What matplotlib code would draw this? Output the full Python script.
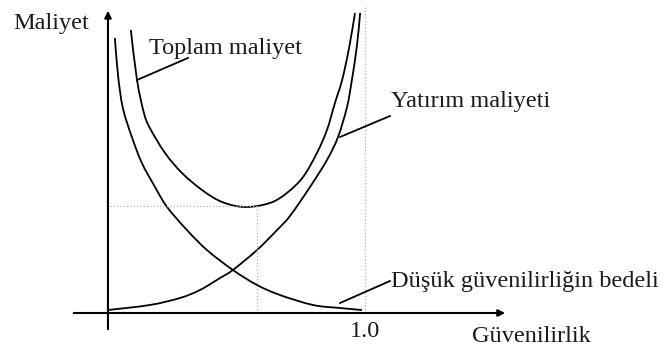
import matplotlib
matplotlib.use("Agg")
import matplotlib.pyplot as plt
from matplotlib.path import Path
from matplotlib.patches import PathPatch

plt.rcParams['font.family'] = ['Liberation Serif', 'DejaVu Serif']

# Yatırım maliyeti (artan)
yatirim_x = [0.000, 0.163, 0.280, 0.358, 0.436, 0.486, 0.580, 0.658, 0.708, 0.786,
             0.852, 0.895, 0.930, 0.949, 0.969, 0.981]
yatirim_y = [0.03, 0.08, 0.15, 0.23, 0.35, 0.43, 0.63, 0.83, 0.97, 1.26,
             1.53, 1.76, 2.06, 2.33, 2.68, 3.00]

# Toplam maliyet (U şekli)
toplam_x = [0.089, 0.113, 0.140, 0.163, 0.222, 0.288, 0.366, 0.444, 0.533, 0.630,
            0.696, 0.759, 0.813, 0.852, 0.883, 0.911, 0.938, 0.961]
toplam_y = [2.83, 2.33, 2.00, 1.85, 1.60, 1.40, 1.23, 1.11, 1.06, 1.10,
            1.20, 1.36, 1.60, 1.83, 2.10, 2.33, 2.65, 3.00]

# Düşük güvenilirliğin bedeli (azalan)
dusuk_x = [0.027, 0.039, 0.058, 0.093, 0.132, 0.183, 0.230, 0.307, 0.385, 0.486,
           0.580, 0.669, 0.798, 0.903, 0.988]
dusuk_y = [2.75, 2.38, 2.05, 1.76, 1.50, 1.26, 1.06, 0.83, 0.63, 0.43,
           0.28, 0.18, 0.08, 0.05, 0.03]

opt_x = 0.580
opt_y = 1.07


def smooth_curve(ax, xs, ys, lw=1.3):
    # Catmull-Rom -> Bezier, drawn by matplotlib's Path
    pts = list(zip(xs, ys))
    verts = [pts[0]]
    codes = [Path.MOVETO]
    n = len(pts)
    for i in range(n - 1):
        p0 = pts[i - 1] if i > 0 else pts[i]
        p1 = pts[i]
        p2 = pts[i + 1]
        p3 = pts[i + 2] if i + 2 < n else pts[i + 1]
        c1 = (p1[0] + (p2[0] - p0[0]) / 6, p1[1] + (p2[1] - p0[1]) / 6)
        c2 = (p2[0] - (p3[0] - p1[0]) / 6, p2[1] - (p3[1] - p1[1]) / 6)
        verts += [c1, c2, p2]
        codes += [Path.CURVE4] * 3
    ax.add_patch(PathPatch(Path(verts, codes), fill=False, edgecolor='black', lw=lw))


fig = plt.figure(figsize=(6.66, 3.47), dpi=100)
ax = fig.add_axes([0, 0, 1, 1])
ax.set_xlim(-0.420, 2.171)
ax.set_ylim(-0.34, 3.13)
ax.axis('off')

# eksenler
ax.annotate('', xy=(1.556, 0), xytext=(-0.144, 0),
            arrowprops=dict(arrowstyle='-|>', color='black', lw=1.5, mutation_scale=10))
ax.annotate('', xy=(0, 3.05), xytext=(0, -0.19),
            arrowprops=dict(arrowstyle='-|>', color='black', lw=1.5, mutation_scale=10))

# noktalı çizgiler
dot = dict(color='#b0b0b0', lw=0.9, ls=':')
ax.plot([0.008, opt_x], [opt_y, opt_y], **dot)
ax.plot([opt_x, opt_x], [0, opt_y], **dot)
ax.plot([1.0, 1.0], [0, 3.08], **dot)

# eğriler
smooth_curve(ax, yatirim_x, yatirim_y)
smooth_curve(ax, toplam_x, toplam_y)
smooth_curve(ax, dusuk_x, dusuk_y)

# etiket çizgileri
ax.plot([0.113, 0.311], [2.33, 2.55], color='black', lw=1.3)
ax.plot([0.903, 1.097], [1.76, 1.97], color='black', lw=1.3)
ax.plot([0.903, 1.097], [0.10, 0.32], color='black', lw=1.3)

fs = 17.5
tc = '#1a1a1a'
ax.text(-0.370, 2.84, 'Maliyet', fontsize=fs, color=tc, va='baseline')
ax.text(0.160, 2.59, 'Toplam maliyet', fontsize=fs, color=tc, va='baseline')
ax.text(1.101, 2.06, 'Yatırım maliyeti', fontsize=fs, color=tc, va='baseline')
ax.text(1.101, 0.26, 'Düşük güvenilirliğin bedeli', fontsize=fs, color=tc, va='baseline')
ax.text(1.0, -0.24, '1.0', fontsize=fs, color=tc, va='baseline', ha='center')
ax.text(1.416, -0.29, 'Güvenilirlik', fontsize=fs, color=tc, va='baseline')

fig.savefig('out.png', dpi=100)
